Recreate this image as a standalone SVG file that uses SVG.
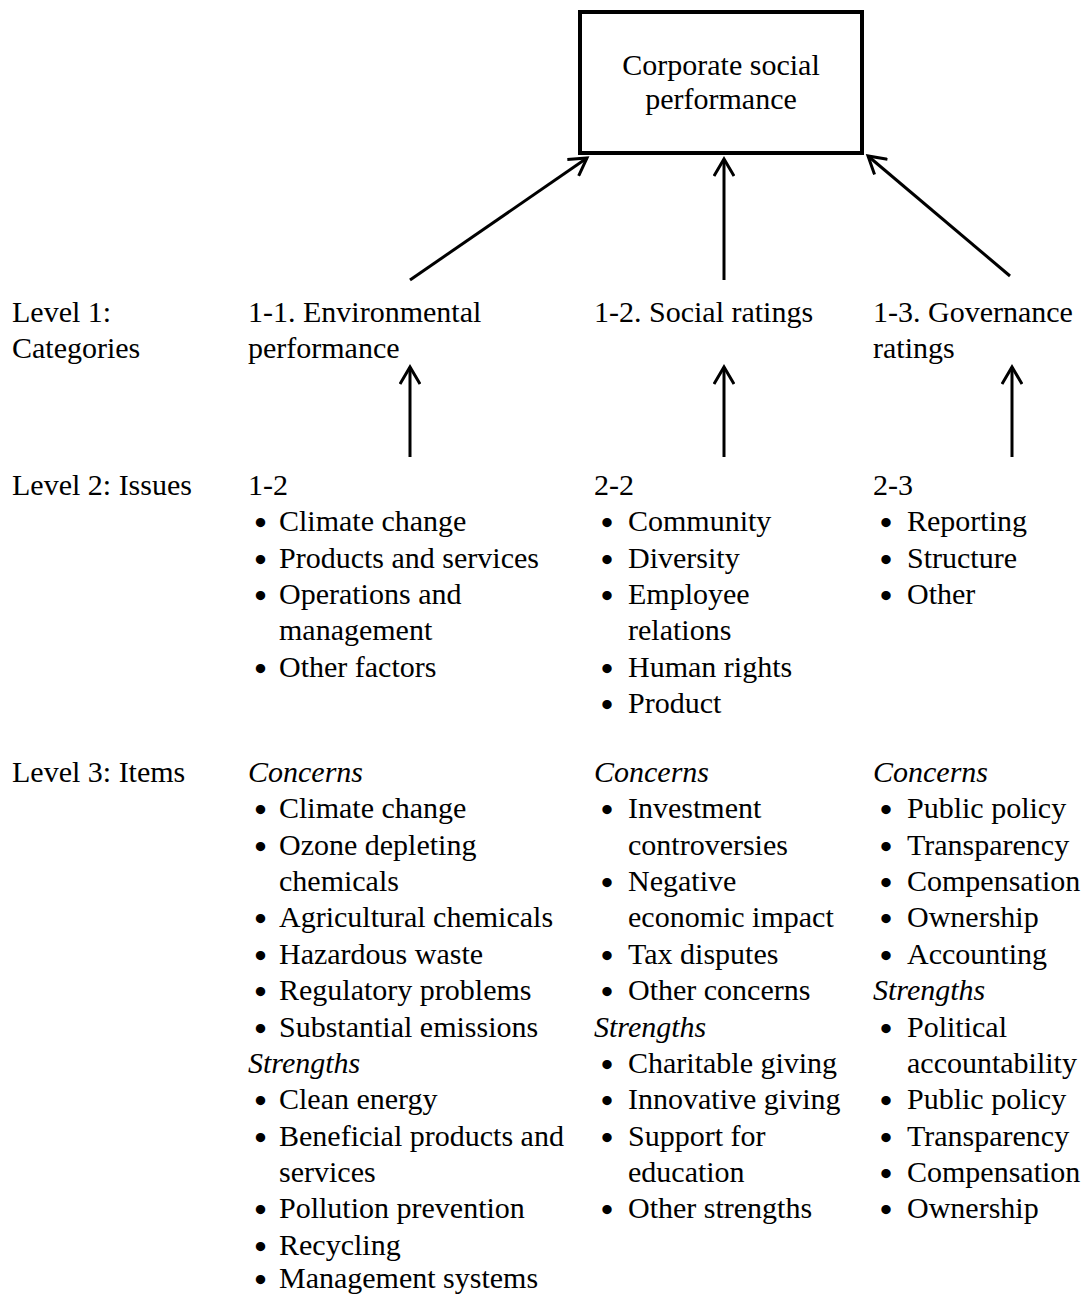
<svg xmlns="http://www.w3.org/2000/svg" width="1085" height="1295" viewBox="0 0 1085 1295">
<defs>
<style>
text{font-family:"Liberation Serif","Times New Roman",serif;font-size:30px;fill:#000}
.it{font-style:italic}
.c{text-anchor:middle}
.b{text-anchor:middle;stroke:#000;stroke-width:2.2}
.conn line{stroke:#000;stroke-width:3;fill:none;marker-end:url(#ah)}
</style>
<marker id="ah" viewBox="0 0 22 22" refX="19" refY="11" markerWidth="22" markerHeight="22" markerUnits="userSpaceOnUse" orient="auto">
<path d="M2,1 L19,11 L2,21" fill="none" stroke="#000" stroke-width="3"/>
</marker>
</defs>
<rect width="1085" height="1295" fill="#fff"/>

<g id="csp">
<rect x="580" y="12" width="282" height="141" fill="none" stroke="#000" stroke-width="4"/>
<text class="c" x="721" y="75">Corporate social</text>
<text class="c" x="721" y="109">performance</text>
</g>

<g class="conn" id="connectors">
<line x1="410" y1="280" x2="587" y2="158"/>
<line x1="724" y1="280" x2="724" y2="159"/>
<line x1="1010" y1="276" x2="868" y2="156"/>
<line x1="410" y1="457" x2="410" y2="367"/>
<line x1="724" y1="457" x2="724" y2="367"/>
<line x1="1012" y1="457" x2="1012" y2="367"/>
</g>

<g id="labels">
<text x="12" y="322">Level 1:</text>
<text x="12" y="358">Categories</text>
<text x="12" y="495">Level 2: Issues</text>
<text x="12" y="782">Level 3: Items</text>
</g>

<g id="cat-env">
<text x="248" y="322">1-1. Environmental</text>
<text x="248" y="358">performance</text>
</g>
<g id="cat-soc">
<text x="594" y="322">1-2. Social ratings</text>
</g>
<g id="cat-gov">
<text x="873" y="322">1-3. Governance</text>
<text x="873" y="358">ratings</text>
</g>

<g id="iss-env">
<text x="248" y="495">1-2</text>
<text class="b" x="260.5" y="533.4">•</text><text x="279" y="531.4">Climate change</text>
<text class="b" x="260.5" y="569.7">•</text><text x="279" y="567.7">Products and services</text>
<text class="b" x="260.5" y="606.1">•</text><text x="279" y="604.1">Operations and</text>
<text x="279" y="640.4">management</text>
<text class="b" x="260.5" y="678.8">•</text><text x="279" y="676.8">Other factors</text>
</g>
<g id="iss-soc">
<text x="594" y="495">2-2</text>
<text class="b" x="607" y="533.4">•</text><text x="628" y="531.4">Community</text>
<text class="b" x="607" y="569.7">•</text><text x="628" y="567.7">Diversity</text>
<text class="b" x="607" y="606.1">•</text><text x="628" y="604.1">Employee</text>
<text x="628" y="640.4">relations</text>
<text class="b" x="607" y="678.8">•</text><text x="628" y="676.8">Human rights</text>
<text class="b" x="607" y="715.2">•</text><text x="628" y="713.2">Product</text>
</g>
<g id="iss-gov">
<text x="873" y="495">2-3</text>
<text class="b" x="886" y="533.4">•</text><text x="907" y="531.4">Reporting</text>
<text class="b" x="886" y="569.7">•</text><text x="907" y="567.7">Structure</text>
<text class="b" x="886" y="606.1">•</text><text x="907" y="604.1">Other</text>
</g>

<g id="item-env">
<text class="it" x="248" y="782">Concerns</text>
<text class="b" x="260.5" y="820.4">•</text><text x="279" y="818.4">Climate change</text>
<text class="b" x="260.5" y="856.7">•</text><text x="279" y="854.7">Ozone depleting</text>
<text x="279" y="891.1">chemicals</text>
<text class="b" x="260.5" y="929.4">•</text><text x="279" y="927.4">Agricultural chemicals</text>
<text class="b" x="260.5" y="965.8">•</text><text x="279" y="963.8">Hazardous waste</text>
<text class="b" x="260.5" y="1002.2">•</text><text x="279" y="1000.2">Regulatory problems</text>
<text class="b" x="260.5" y="1038.5">•</text><text x="279" y="1036.5">Substantial emissions</text>
<text class="it" x="248" y="1072.9">Strengths</text>
<text class="b" x="260.5" y="1111.2">•</text><text x="279" y="1109.2">Clean energy</text>
<text class="b" x="260.5" y="1147.6">•</text><text x="279" y="1145.6">Beneficial products and</text>
<text x="279" y="1182">services</text>
<text class="b" x="260.5" y="1220.3">•</text><text x="279" y="1218.3">Pollution prevention</text>
<text class="b" x="260.5" y="1256.7">•</text><text x="279" y="1254.7">Recycling</text>
<text class="b" x="260.5" y="1290">•</text><text x="279" y="1288">Management systems</text>
</g>
<g id="item-soc">
<text class="it" x="594" y="782">Concerns</text>
<text class="b" x="607" y="820.4">•</text><text x="628" y="818.4">Investment</text>
<text x="628" y="854.7">controversies</text>
<text class="b" x="607" y="893.1">•</text><text x="628" y="891.1">Negative</text>
<text x="628" y="927.4">economic impact</text>
<text class="b" x="607" y="965.8">•</text><text x="628" y="963.8">Tax disputes</text>
<text class="b" x="607" y="1002.2">•</text><text x="628" y="1000.2">Other concerns</text>
<text class="it" x="594" y="1036.5">Strengths</text>
<text class="b" x="607" y="1074.9">•</text><text x="628" y="1072.9">Charitable giving</text>
<text class="b" x="607" y="1111.2">•</text><text x="628" y="1109.2">Innovative giving</text>
<text class="b" x="607" y="1147.6">•</text><text x="628" y="1145.6">Support for</text>
<text x="628" y="1182">education</text>
<text class="b" x="607" y="1220.3">•</text><text x="628" y="1218.3">Other strengths</text>
</g>
<g id="item-gov">
<text class="it" x="873" y="782">Concerns</text>
<text class="b" x="886" y="820.4">•</text><text x="907" y="818.4">Public policy</text>
<text class="b" x="886" y="856.7">•</text><text x="907" y="854.7">Transparency</text>
<text class="b" x="886" y="893.1">•</text><text x="907" y="891.1">Compensation</text>
<text class="b" x="886" y="929.4">•</text><text x="907" y="927.4">Ownership</text>
<text class="b" x="886" y="965.8">•</text><text x="907" y="963.8">Accounting</text>
<text class="it" x="873" y="1000.2">Strengths</text>
<text class="b" x="886" y="1038.5">•</text><text x="907" y="1036.5">Political</text>
<text x="907" y="1072.9">accountability</text>
<text class="b" x="886" y="1111.2">•</text><text x="907" y="1109.2">Public policy</text>
<text class="b" x="886" y="1147.6">•</text><text x="907" y="1145.6">Transparency</text>
<text class="b" x="886" y="1184">•</text><text x="907" y="1182">Compensation</text>
<text class="b" x="886" y="1220.3">•</text><text x="907" y="1218.3">Ownership</text>
</g>
</svg>
